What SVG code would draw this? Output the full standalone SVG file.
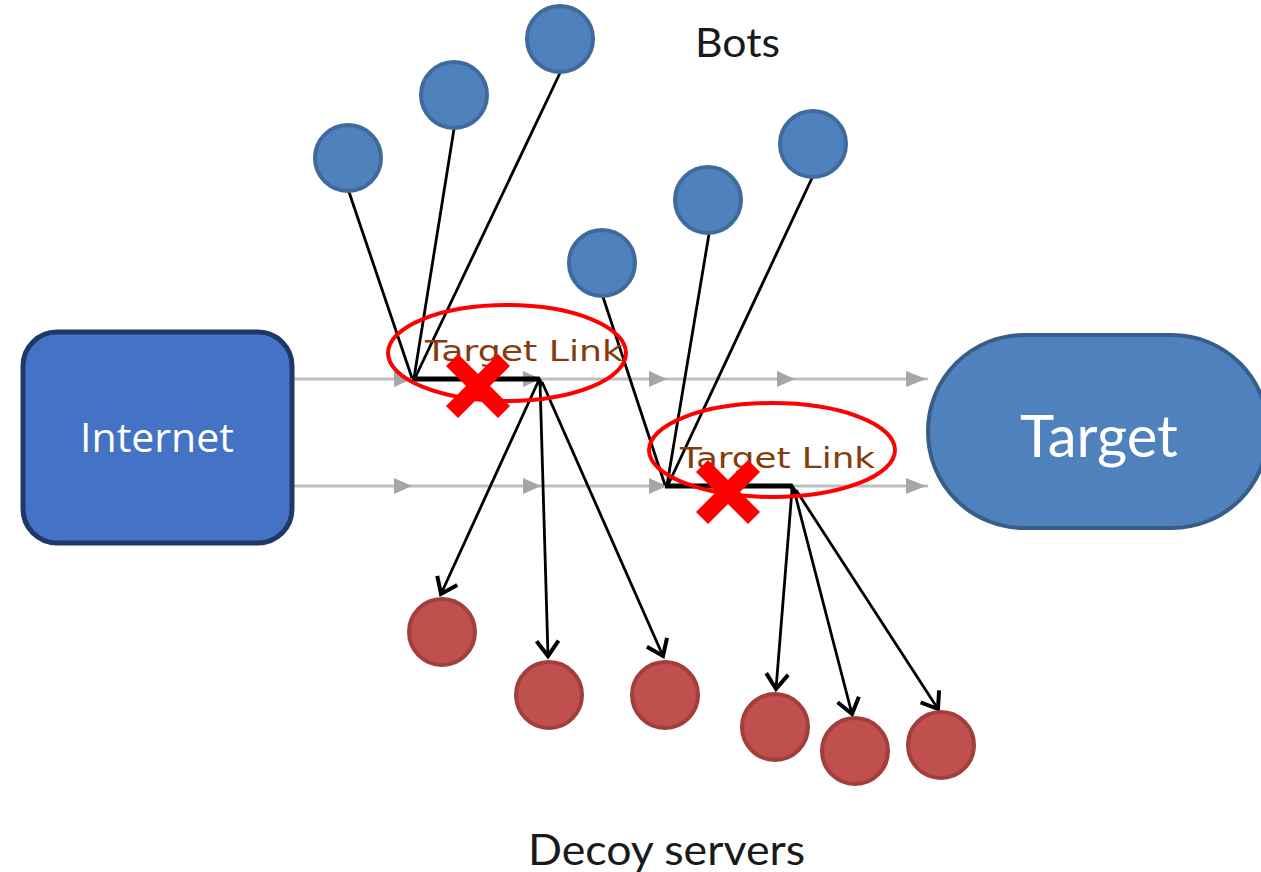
<svg xmlns="http://www.w3.org/2000/svg" width="1261" height="872" viewBox="0 0 1261 872">
<style>
.bot{fill:#4F81BD;stroke:#3F6A9E;stroke-width:4}
.decoy{fill:#C0504D;stroke:#A03F3C;stroke-width:4}
.bl{stroke:#000;stroke-width:2.8;fill:none}
.arr{stroke:#000;stroke-width:2.8;fill:none;marker-end:url(#vhead)}
.gray{stroke:#BFBFBF;stroke-width:3;fill:none}
.ring{fill:none;stroke:#FF0000;stroke-width:4}
.tl{font-family:"DejaVu Sans",sans-serif;font-size:29px;fill:#843C0C}
.lbl{font-family:Lato,"Open Sans",sans-serif;fill:#1a1a1a}
.x{stroke:#FF0000;stroke-width:17;stroke-linecap:butt}
</style>
<defs>
<marker id="vhead" markerWidth="26" markerHeight="28" refX="19" refY="14" orient="auto" markerUnits="userSpaceOnUse">
<path d="M4,3 L19,14 L4,25" fill="none" stroke="#000" stroke-width="4"/>
</marker>
</defs>

<g id="connectors">
<line class="gray" x1="293" y1="379" x2="928" y2="379"/>
<line class="gray" x1="293" y1="486" x2="928" y2="486"/>
<g fill="#A6A6A6">
<path d="M394,371 L412,379 L394,387 Z"/>
<path d="M523,371 L541,379 L523,387 Z"/>
<path d="M649,371 L667,379 L649,387 Z"/>
<path d="M777,371 L795,379 L777,387 Z"/>
<path d="M906,371 L926,379 L906,387 Z"/>
<path d="M394,478 L412,486 L394,494 Z"/>
<path d="M523,478 L541,486 L523,494 Z"/>
<path d="M649,478 L667,486 L649,494 Z"/>
<path d="M906,478 L926,486 L906,494 Z"/>
</g>
<line class="bl" x1="349" y1="192" x2="412" y2="378"/>
<line class="bl" x1="454" y1="129" x2="414" y2="378"/>
<line class="bl" x1="560" y1="73" x2="415" y2="378"/>
<line class="bl" x1="603" y1="297" x2="665" y2="485"/>
<line class="bl" x1="709" y1="234" x2="667" y2="485"/>
<line class="bl" x1="812" y1="178" x2="668" y2="485"/>
<polyline points="412,379 538,379 542,386" fill="none" stroke="#000" stroke-width="5"/>
<polyline points="665,486 791,486 796,494" fill="none" stroke="#000" stroke-width="5"/>
<line class="arr" x1="538" y1="382" x2="441" y2="594"/>
<line class="arr" x1="540" y1="382" x2="548" y2="656"/>
<line class="arr" x1="542" y1="382" x2="663" y2="656"/>
<line class="arr" x1="792" y1="490" x2="776" y2="689"/>
<line class="arr" x1="794" y1="490" x2="852" y2="714"/>
<line class="arr" x1="796" y1="490" x2="938" y2="709"/>
</g>

<g id="internet">
<rect x="23" y="332" width="269" height="211" rx="34" fill="#4472C4" stroke="#203864" stroke-width="5"/>
<text x="157" y="452" font-family="'Open Sans',sans-serif" font-size="41" fill="#fff" text-anchor="middle">Internet</text>
</g>

<g id="target">
<rect x="928" y="335" width="340" height="193" rx="96" fill="#4F81BD" stroke="#385D8A" stroke-width="4"/>
<text x="1099" y="457" font-family="Lato,sans-serif" font-size="58" fill="#fff" text-anchor="middle">Target</text>
</g>

<g id="bots">
<circle class="bot" cx="348" cy="158" r="33"/>
<circle class="bot" cx="454" cy="95" r="33"/>
<circle class="bot" cx="560" cy="39" r="33"/>
<circle class="bot" cx="602" cy="263" r="33"/>
<circle class="bot" cx="708" cy="200" r="33"/>
<circle class="bot" cx="813" cy="144" r="33"/>
</g>

<g id="decoys">
<circle class="decoy" cx="442" cy="632" r="33"/>
<circle class="decoy" cx="549" cy="695" r="33"/>
<circle class="decoy" cx="665" cy="695" r="33"/>
<circle class="decoy" cx="775" cy="727" r="33"/>
<circle class="decoy" cx="855" cy="751" r="33"/>
<circle class="decoy" cx="941" cy="745" r="33"/>
</g>

<g id="target-link-1">
<ellipse class="ring" cx="507" cy="353" rx="119" ry="48"/>
<text class="tl" x="425" y="361" textLength="198" lengthAdjust="spacingAndGlyphs">Target Link</text>
<g class="x"><line x1="452" y1="360" x2="504" y2="412"/><line x1="504" y1="360" x2="452" y2="412"/></g>
</g>

<g id="target-link-2">
<ellipse class="ring" cx="772" cy="450" rx="123" ry="47"/>
<text class="tl" x="680" y="468" textLength="195" lengthAdjust="spacingAndGlyphs">Target Link</text>
<g class="x"><line x1="702" y1="466" x2="754" y2="518"/><line x1="754" y1="466" x2="702" y2="518"/></g>
</g>

<g id="labels">
<text class="lbl" x="695" y="57" font-size="40" textLength="85" lengthAdjust="spacingAndGlyphs">Bots</text>
<text class="lbl" x="528" y="865" font-size="42" textLength="277" lengthAdjust="spacingAndGlyphs">Decoy servers</text>
</g>
</svg>
